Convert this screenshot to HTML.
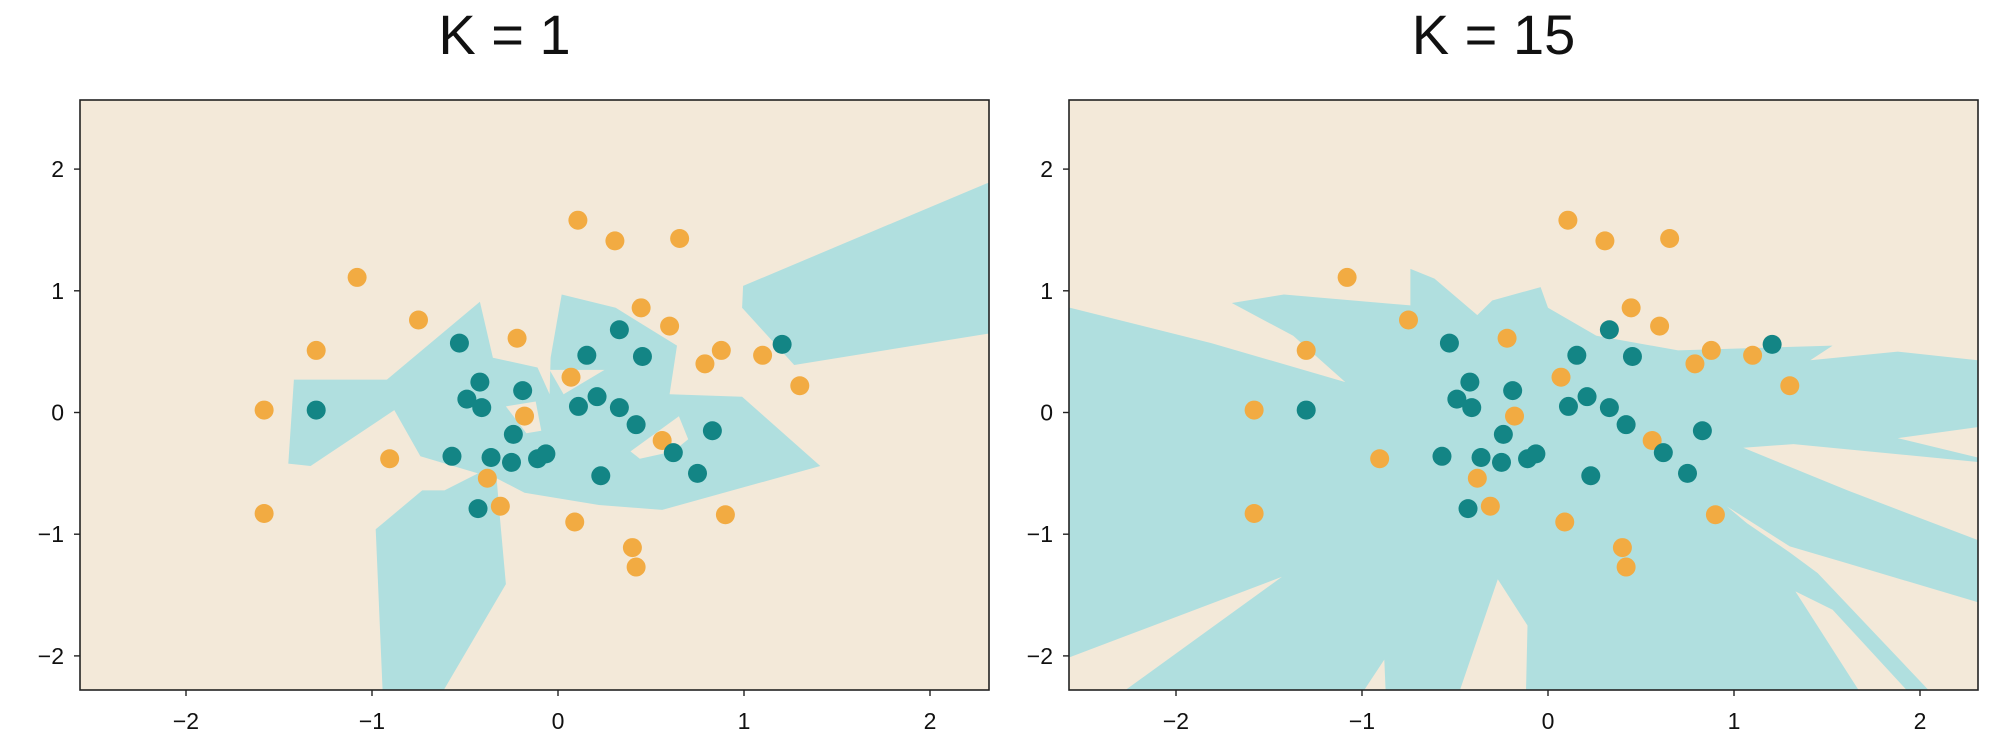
<!DOCTYPE html>
<html><head><meta charset="utf-8">
<style>
html,body{margin:0;padding:0;background:#fff;}
svg{display:block;}
text{font-family:"Liberation Sans Narrow","Liberation Sans",sans-serif;fill:#111;}
</style></head>
<body>
<svg id="chart" width="1999" height="751" viewBox="0 0 1999 751" xmlns="http://www.w3.org/2000/svg"></svg>
<script>
const orangeX=[0.107,0.306,0.654,-1.08,0.447,-0.75,0.60,-0.22,-1.30,0.878,0.79,1.10,0.07,1.30,-1.58,-0.18,0.56,-0.905,-0.38,-0.31,-1.58,0.09,0.90,0.40,0.42];
const orangeY=[1.58,1.41,1.43,1.11,0.86,0.76,0.71,0.61,0.51,0.51,0.40,0.47,0.29,0.22,0.02,-0.03,-0.23,-0.38,-0.54,-0.77,-0.83,-0.90,-0.84,-1.11,-1.27];
const tealX=[-0.53,0.33,0.155,0.454,1.205,-0.42,-0.19,-0.49,-0.41,0.21,0.11,0.33,-1.30,0.42,0.83,-0.24,-0.57,-0.36,-0.25,-0.11,-0.065,0.62,0.23,0.75,-0.43];
const tealY=[0.57,0.68,0.47,0.46,0.56,0.25,0.18,0.11,0.04,0.13,0.05,0.04,0.02,-0.10,-0.15,-0.18,-0.36,-0.37,-0.41,-0.38,-0.34,-0.33,-0.52,-0.50,-0.79];
const xTicks=[-2,-1,0,1,2];
const yTicks=[-2,-1,0,1,2];
const xTickLabels=["\u22122","\u22121","0","1","2"];
const yTickLabels=["\u22122","\u22121","0","1","2"];
const titles=["K = 1","K = 15"];
const regionsK1=[
 ["t",[[-1.42,0.27],[-0.92,0.27],[-0.42,0.91],[-0.35,0.45],[-0.11,0.37],[-0.045,0.15],[-0.04,0.45],[0.02,0.97],[0.31,0.86],[0.64,0.55],[0.60,0.15],[0.99,0.13],[1.41,-0.44],[0.56,-0.80],[0.22,-0.76],[-0.18,-0.66],[-0.33,-0.54],[-0.31,-0.90],[-0.28,-1.41],[-0.66,-2.4],[-0.94,-2.4],[-0.98,-0.96],[-0.73,-0.64],[-0.61,-0.64],[-0.43,-0.50],[-0.74,-0.36],[-0.88,0.02],[-1.33,-0.44],[-1.45,-0.42]]],
 ["b",[[-0.28,0.05],[-0.12,0.09],[-0.09,-0.15],[-0.17,-0.17]]],
 ["b",[[-0.045,0.35],[0.25,0.35],[0.03,0.15]]],
 ["b",[[0.39,-0.32],[0.65,-0.03],[0.70,-0.22],[0.62,-0.32],[0.44,-0.38]]],
 ["t",[[0.995,1.04],[2.30,1.88],[2.4,1.93],[2.4,0.67],[1.27,0.39],[0.99,0.86]]]
];
const regionsK15=[
 ["t",[[-2.7,0.89],[-2.57,0.86],[-1.81,0.57],[-1.09,0.25],[-1.37,0.63],[-1.70,0.90],[-1.42,0.97],[-0.74,0.88],[-0.74,1.18],[-0.61,1.10],[-0.38,0.80],[-0.30,0.92],[-0.04,1.03],[0.0,0.86],[0.26,0.63],[0.70,0.51],[1.53,0.55],[1.41,0.43],[1.88,0.50],[2.31,0.43],[2.4,0.43],[2.4,-2.4],[-2.7,-2.4]]],
 ["b",[[1.88,-0.21],[2.31,-0.12],[2.4,-0.10],[2.4,-0.39],[2.31,-0.37]]],
 ["b",[[1.05,-0.29],[1.32,-0.26],[2.4,-0.42],[2.4,-1.1],[1.61,-0.64]]],
 ["b",[[0.96,-0.77],[1.30,-1.10],[1.61,-1.24],[2.4,-1.60],[2.4,-2.4],[2.12,-2.4],[1.45,-1.32],[1.30,-1.15],[1.07,-0.91]]],
 ["b",[[1.33,-1.47],[1.53,-1.62],[2.0,-2.4],[1.72,-2.4]]],
 ["b",[[-2.7,-2.05],[-2.57,-2.01],[-1.43,-1.35],[-2.38,-2.4],[-2.7,-2.4]]],
 ["b",[[-1.04,-2.4],[-0.88,-2.03],[-0.87,-2.4]]],
 ["b",[[-0.50,-2.4],[-0.27,-1.37],[-0.11,-1.75],[-0.12,-2.4]]]
];
const NS="http://www.w3.org/2000/svg";
const svgEl=document.getElementById('chart');
function mk(tag,attrs,parent){const e=document.createElementNS(NS,tag);for(const k in attrs)e.setAttribute(k,attrs[k]);(parent||svgEl).appendChild(e);return e;}
const panels=[{left:80,right:989,x0:558,regions:regionsK1,name:'k1'},{left:1069,right:1978,x0:1548,regions:regionsK15,name:'k15'}];
const plotTop=100,plotBottom=690,unitX=186,y0=412.5,unitY=121.7;
panels.forEach((p,pi)=>{
  const sx=v=>p.x0+v*unitX, sy=v=>y0-v*unitY;
  const g=mk('g',{});
  
  
  const cid='clip'+pi;
  const cp=mk('clipPath',{id:cid},g);
  mk('rect',{x:p.left,y:plotTop,width:p.right-p.left,height:plotBottom-plotTop},cp);
  const bg=mk('rect',{x:p.left,y:plotTop,width:p.right-p.left,height:plotBottom-plotTop,fill:'#f3e9d9'},g);
  
  
  const rg=mk('g',{'clip-path':'url(#'+cid+')'},g);
  p.regions.forEach(r=>{
    const pts=r[1].map(q=>sx(q[0]).toFixed(1)+','+sy(q[1]).toFixed(1)).join(' ');
    const pg=mk('polygon',{points:pts,fill:r[0]==='t'?'#b0dfdf':'#f3e9d9'},rg);
    
    
  });
  orangeX.forEach((x,i)=>{
    const c=mk('circle',{cx:sx(x),cy:sy(orangeY[i]),r:9.5,fill:'#f2ab42'},g);
    
    
  });
  tealX.forEach((x,i)=>{
    const c=mk('circle',{cx:sx(x),cy:sy(tealY[i]),r:9.5,fill:'#138585'},g);
    
    
  });
  const fr=mk('rect',{x:p.left,y:plotTop,width:p.right-p.left,height:plotBottom-plotTop,fill:'none',stroke:'#222','stroke-width':1.6},g);
  
  
  xTicks.forEach((v,i)=>{
    const x=sx(v);
    const l=mk('line',{x1:x,x2:x,y1:plotBottom,y2:plotBottom+6,stroke:'#222','stroke-width':1.4},g);
    
    
    const t=mk('text',{x:x,y:729,'text-anchor':'middle','font-size':23},g);
    t.textContent=xTickLabels[i];
    
    
  });
  yTicks.forEach((v,i)=>{
    const y=sy(v);
    const l=mk('line',{x1:p.left-6,x2:p.left,y1:y,y2:y,stroke:'#222','stroke-width':1.4},g);
    
    
    const t=mk('text',{x:p.left-16,y:y+8,'text-anchor':'end','font-size':23},g);
    t.textContent=yTickLabels[i];
    
    
  });
  const tt=mk('text',{x:(p.left+p.right)/2-30,y:54,'text-anchor':'middle','font-size':56},g);
  tt.textContent=titles[pi];
  
  
});
</script>
</body></html>
